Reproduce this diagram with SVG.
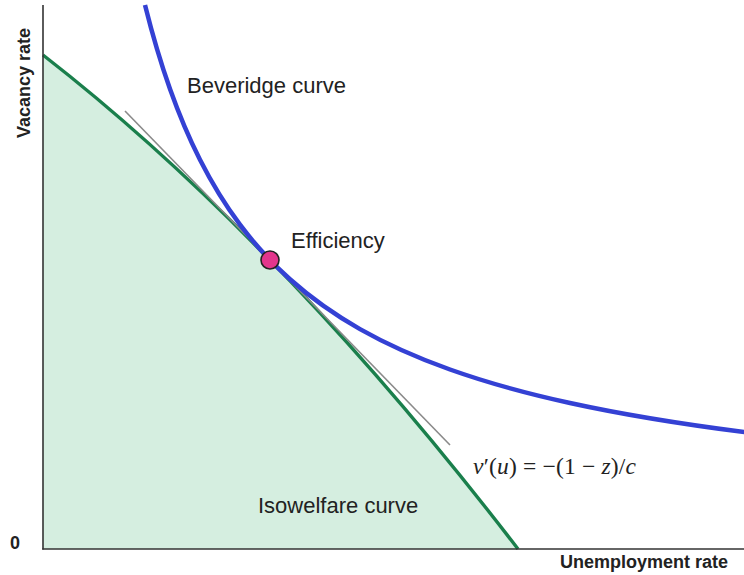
<svg xmlns="http://www.w3.org/2000/svg" width="744" height="575" viewBox="0 0 744 575">
<style>
.lbl{font-family:"Liberation Sans",Arial,sans-serif;font-size:22px;fill:#222}
.ax{font-family:"Liberation Sans",Arial,sans-serif;font-size:18px;font-weight:bold;fill:#222}
.math{font-family:"Liberation Serif","Times New Roman",serif;font-size:23.5px;fill:#222}
.it{font-style:italic}
.axis{stroke:#333;stroke-width:1.6;fill:none}
</style>
<rect width="744" height="575" fill="#ffffff"/>
<g id="isowelfare-region">
<path d="M43,55 Q280.5,239.8 518,549 L43,549 Z" fill="#d5eee0"/>
</g>
<g id="connectors">
<path id="isowelfare-curve" d="M43,55 Q280.5,239.8 518,549" fill="none" stroke="#1a7f4c" stroke-width="3.4"/>
<line id="tangent" x1="125" y1="111" x2="450" y2="445" stroke="#8a8a8a" stroke-width="1.6"/>
<path id="beveridge-curve" d="M145,5 C153.33,38.4 161.67,65.53 170,89 C180,117.16 190,140.05 200,159.8 C213.33,186.13 226.67,206.91 240,224.7 C256.67,246.93 273.33,264.42 290,279.3 C313.33,300.13 336.67,315.87 360,329.1 C390,346.1 420,358.81 450,369.5 C490,383.76 530,394.24 570,403 C628,415.7 686,424.65 746,432.3" fill="none" stroke="#3441d4" stroke-width="4.5"/>
</g>
<g id="axes">
<line class="axis" x1="43" y1="5" x2="43" y2="549.5"/>
<line class="axis" x1="42.2" y1="549" x2="744" y2="549"/>
</g>
<g id="efficiency">
<circle cx="270" cy="260" r="9" fill="#e3358c" stroke="#222" stroke-width="1.6"/>
<text class="lbl" x="291" y="247.5">Efficiency</text>
</g>
<g id="labels">
<text class="lbl" x="187" y="92.5">Beveridge curve</text>
<text class="lbl" x="258" y="512.5">Isowelfare curve</text>
<text class="math" x="473" y="474" textLength="163" lengthAdjust="spacing"><tspan class="it">v</tspan>′(<tspan class="it">u</tspan>) = −(1 − <tspan class="it">z</tspan>)/<tspan class="it">c</tspan></text>
<text class="ax" x="728" y="568" text-anchor="end">Unemployment rate</text>
<text class="ax" transform="translate(30,83) rotate(-90)" text-anchor="middle">Vacancy rate</text>
<text class="ax" x="10" y="549" font-size="16">0</text>
</g>
</svg>
